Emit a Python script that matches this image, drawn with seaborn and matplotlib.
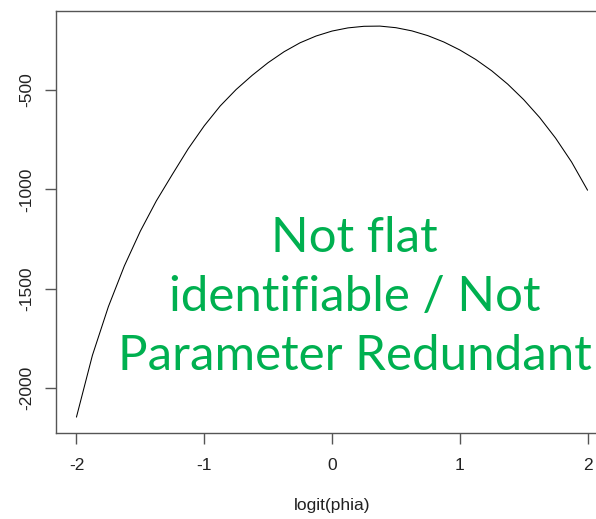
import numpy as np
import matplotlib.pyplot as plt
import seaborn as sns

# profile log-likelihood
logit_phia = [-2.0, -1.875, -1.75, -1.625, -1.5, -1.375, -1.25, -1.125, -1.0,
              -0.875, -0.75, -0.625, -0.5, -0.375, -0.25, -0.125, 0.0, 0.125,
              0.25, 0.375, 0.5, 0.625, 0.75, 0.875, 1.0, 1.125, 1.25, 1.375,
              1.5, 1.625, 1.75, 1.875, 2.0]
loglik = [-2146, -1835, -1590, -1385, -1210, -1058, -925, -795, -680,
          -580, -497, -426, -362, -307, -262, -228, -203, -187,
          -179, -178, -186, -202, -226, -258, -298, -346, -403, -470,
          -548, -638, -742, -862, -1004]

x_ticks = [-2, -1, 0, 1, 2]
y_ticks = [-2000, -1500, -1000, -500]
note = "Not flat\nidentifiable / Not\nParameter Redundant"

sns.set_style("ticks")
plt.rcParams['font.family'] = ['Liberation Sans', 'DejaVu Sans']

fig = plt.figure(figsize=(5.96, 5.19), dpi=100)
# plot region runs past the right edge of the picture, like the cropped original
ax = fig.add_axes([56 / 596, 1 - 433 / 519, (608 - 56) / 596, (433 - 11) / 519])

sns.lineplot(x=logit_phia, y=loglik, color='black', lw=0.75, ax=ax)

ax.set_xlim(-2.16, 2.16)
ax.set_ylim(-2226, -102)
ax.set_xticks(x_ticks)
ax.set_xticklabels([str(v) for v in x_ticks])
ax.set_yticks(y_ticks)
ax.set_yticklabels([str(v) for v in y_ticks], rotation=90, va='center')

for s in ax.spines.values():
    s.set_color('#555555')
    s.set_linewidth(1.0)
ax.tick_params(axis='both', length=8, width=1, color='#555555',
               labelsize=12.5, labelcolor='#222222')
ax.tick_params(axis='x', pad=10)
ax.tick_params(axis='y', pad=8)
ax.set_xlabel('logit(phia)', fontsize=12.5, color='#222222', labelpad=18)
ax.set_ylabel('')

ax.text(0.176, -1542, note, color='#00B050', fontsize=35.5, family=['Lato'],
        ha='center', va='center', multialignment='center', linespacing=1.42)

fig.savefig('out.png', dpi=100)
